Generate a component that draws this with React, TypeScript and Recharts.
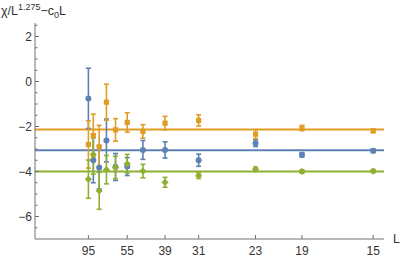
import React from "react";
import { ComposedChart, Scatter, ErrorBar, XAxis, YAxis, ReferenceLine } from "recharts";

const BLUE = "#5E81B5";
const ORANGE = "#E19C24";
const GREEN = "#8FB032";
const AXIS = "#707070";
const TEXT = "#333333";
const FONT = "'Liberation Sans', Arial, sans-serif";

// system sizes L, plotted against 1/L
const sizes = [95, 87, 79, 71, 63, 55, 47, 39, 31, 23, 19, 15];
const tickSizes = [95, 55, 39, 31, 23, 19, 15];
const yTicks = [-6.5, -6, -5.5, -5, -4.5, -4, -3.5, -3, -2.5, -2, -1.5, -1, -0.5, 0, 0.5, 1, 1.5, 2, 2.5];

const blueVals = [-0.75, -3.5, -3.82, -2.62, -3.8, -3.78, -3.04, -3.04, -3.5, -2.74, -3.26, -3.08];
const blueErrs = [1.34, 1.0, 0.95, 0.95, 0.6, 0.4, 0.42, 0.36, 0.27, 0.15, 0.1, 0.08];
const orangeVals = [-2.8, -2.4, -2.9, -0.92, -2.15, -1.82, -2.22, -1.85, -1.73, -2.34, -2.07, -2.19];
const orangeErrs = [1.05, 0.95, 0.95, 0.8, 0.5, 0.43, 0.3, 0.3, 0.25, 0.2, 0.12, 0.08];
const greenVals = [-4.34, -3.24, -4.86, -3.92, -3.82, -3.66, -3.98, -4.48, -4.19, -3.9, -4.0, -3.98];
const greenErrs = [0.85, 0.88, 0.82, 0.63, 0.5, 0.42, 0.3, 0.22, 0.12, 0.1, 0.08, 0.07];

const blueFit = -3.05;
const orangeFit = -2.13;
const greenFit = -4.0;

const toSeries = (vals: number[], errs: number[]) =>
  sizes.map((L, i) => ({ x: 1 / L, y: vals[i], err: errs[i] }));

const blueData = toSeries(blueVals, blueErrs);
const orangeData = toSeries(orangeVals, orangeErrs);
const greenData = toSeries(greenVals, greenErrs);

const fmt = (v: number) => (v < 0 ? "\u2212" + Math.abs(v) : String(v));

const Dot = (p: any) => <circle cx={p.cx} cy={p.cy} r={3} fill={BLUE} />;
const Square = (p: any) => <rect x={p.cx - 2.6} y={p.cy - 2.6} width={5.2} height={5.2} fill={ORANGE} />;
const Diamond = (p: any) => (
  <polygon
    points={`${p.cx},${p.cy - 3.6} ${p.cx + 3.6},${p.cy} ${p.cx},${p.cy + 3.6} ${p.cx - 3.6},${p.cy}`}
    fill={GREEN}
  />
);

const YTick = (props: any) => {
  const { x, y, payload } = props;
  const v = payload.value;
  const major = Math.abs(v % 2) < 1e-9;
  return (
    <g>
      <line x1={x} x2={x + (major ? 4 : 2.5)} y1={y} y2={y} stroke={AXIS} strokeWidth={1} />
      {major && (
        <text x={x - 3} y={y} dy="0.36em" textAnchor="end" fontSize={12} fontFamily={FONT} fill={TEXT}>
          {fmt(v)}
        </text>
      )}
    </g>
  );
};

const XTick = (props: any) => {
  const { x, y, payload } = props;
  return (
    <g>
      <line x1={x} x2={x} y1={y} y2={y - 4} stroke={AXIS} strokeWidth={1} />
      <text x={x} y={y + 16} textAnchor="middle" fontSize={12} fontFamily={FONT} fill={TEXT}>
        {Math.round(1 / payload.value)}
      </text>
    </g>
  );
};

const YLabel = (props: any) => {
  const vb = props.viewBox || { x: 0, y: 23 };
  return (
    <text x={vb.x + 1} y={vb.y - 8} fontSize={12.5} fontFamily={FONT} fill={TEXT}>
      {"\u03C7/L"}
      <tspan dy={-5} fontSize={9}>1.275</tspan>
      <tspan dy={5}>{"\u2212c"}</tspan>
      <tspan dy={3} fontSize={9}>0</tspan>
      <tspan dy={-3}>L</tspan>
    </text>
  );
};

const XLabel = (props: any) => {
  const vb = props.viewBox || { x: 35, y: 239, width: 349 };
  return (
    <text x={vb.x + vb.width + 9} y={vb.y + 4} fontSize={12.5} fontFamily={FONT} fill={TEXT}>
      L
    </text>
  );
};

export default function App() {
  return (
    <div style={{ position: "absolute", left: 0, top: 0 }}>
      <ComposedChart width={401} height={259} margin={{ top: 23, right: 17, bottom: 0, left: 0 }}>
        <XAxis
          type="number"
          dataKey="x"
          domain={[0, 0.0688]}
          ticks={tickSizes.map((L) => 1 / L)}
          interval={0}
          allowDataOverflow
          height={20}
          tickSize={0}
          tickMargin={0}
          tickLine={false}
          axisLine={{ stroke: AXIS }}
          tick={<XTick />}
          label={<XLabel />}
        />
        <YAxis
          type="number"
          dataKey="y"
          domain={[-7, 2.6]}
          ticks={yTicks}
          interval={0}
          allowDataOverflow
          width={35}
          tickSize={0}
          tickMargin={0}
          tickLine={false}
          axisLine={{ stroke: AXIS }}
          tick={<YTick />}
          label={<YLabel />}
        />
        <ReferenceLine y={orangeFit} stroke={ORANGE} strokeWidth={2} />
        <ReferenceLine y={blueFit} stroke={BLUE} strokeWidth={2} />
        <ReferenceLine y={greenFit} stroke={GREEN} strokeWidth={2} />
        <Scatter data={blueData} fill={BLUE} shape={<Dot />} isAnimationActive={false}>
          <ErrorBar dataKey="err" direction="y" width={2.5} stroke={BLUE} strokeWidth={1.6} />
        </Scatter>
        <Scatter data={orangeData} fill={ORANGE} shape={<Square />} isAnimationActive={false}>
          <ErrorBar dataKey="err" direction="y" width={2.5} stroke={ORANGE} strokeWidth={1.6} />
        </Scatter>
        <Scatter data={greenData} fill={GREEN} shape={<Diamond />} isAnimationActive={false}>
          <ErrorBar dataKey="err" direction="y" width={2.5} stroke={GREEN} strokeWidth={1.6} />
        </Scatter>
      </ComposedChart>
    </div>
  );
}
